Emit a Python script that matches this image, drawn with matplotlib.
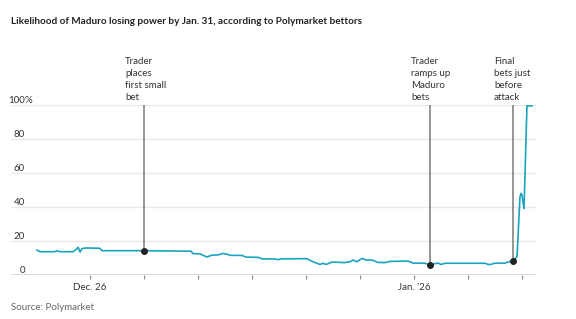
import matplotlib
matplotlib.use("Agg")
import matplotlib.pyplot as plt
import matplotlib.transforms as mtransforms
import pandas as pd

plt.rcParams["font.family"] = ["Lato", "DejaVu Sans"]

# hours since Dec. 25, 2025 00:00 and probability (%) of Maduro losing power
HOURS = [0.4, 1.8, 8.4, 9.3, 10.7, 16.4, 17.8, 18.7, 19.6, 20.4, 22.2, 28.4, 29.3, 48.0,
         68.9, 69.8, 72.9, 74.2, 76.0, 78.2, 80.9, 83.1, 84.9, 86.2, 91.6, 93.3, 98.7,
         100.4, 106.2, 107.6, 108.9, 120.4, 122.7, 124.9, 126.2, 127.6, 128.9, 131.6,
         137.3, 139.6, 140.9, 142.7, 144.9, 146.7, 149.3, 152.0, 155.1, 157.3, 165.3,
         167.6, 172.9, 175.1, 176.9, 178.7, 180.0, 181.8, 199.6, 200.9, 202.2, 203.6,
         208.4, 210.7, 212.0, 213.3, 213.8, 215.1, 215.6, 216.0, 216.9, 218.2, 220.4]
PROB = [14.7, 13.7, 13.7, 14.3, 13.7, 13.7, 15.0, 16.3, 13.5, 15.5, 15.9, 15.7, 14.3, 14.3,
        14.0, 12.6, 12.4, 11.6, 10.6, 11.7, 11.8, 12.7, 12.2, 11.6, 11.5, 10.5, 10.4,
        9.5, 9.4, 9.0, 9.5, 9.6, 8.0, 6.9, 6.2, 6.9, 6.2, 7.6,
        7.3, 7.8, 8.8, 7.8, 9.8, 8.8, 8.8, 7.4, 7.3, 8.0, 8.2,
        7.0, 6.9, 5.9, 6.6, 7.0, 6.2, 6.9, 6.9, 6.2, 6.2, 6.9,
        7.0, 8.0, 8.2, 10.0, 11.0, 46.0, 48.0, 47.0, 39.0, 99.5, 99.5]

# annotated trades: hour offset, probability at that moment, label
EVENT_HOURS = [48.0, 175.1, 212.0]
EVENT_PROB = [14.3, 5.9, 8.2]
EVENT_LABELS = ["Trader\nplaces\nfirst small\nbet",
                "Trader\nramps up\nMaduro\nbets",
                "Final\nbets just\nbefore\nattack"]

Y_TICKS = [0, 20, 40, 60, 80, 100]
X_TICK_DAYS = ["2025-12-26", "2025-12-27", "2025-12-28", "2025-12-29", "2025-12-30",
               "2025-12-31", "2026-01-01", "2026-01-02", "2026-01-03"]
X_LABELS = {"2025-12-26": "Dec. 26", "2026-01-01": "Jan. '26"}

START = pd.Timestamp("2025-12-25")
times = START + pd.to_timedelta(HOURS, unit="h")
event_times = START + pd.to_timedelta(EVENT_HOURS, unit="h")

W, H = 576, 319
fig = plt.figure(figsize=(W / 100, H / 100), dpi=100)
ax = fig.add_axes([11 / W, (H - 275) / H, (536 - 11) / W, 170 / H])

LINE = "#1ba3bf"
TEXT = "#333333"
SMALL = 7

ax.plot(times, PROB, color=LINE, lw=1.2, solid_joinstyle="round", zorder=3, clip_on=False)

# event markers with vertical leader lines up to the 100% line
for t, p, lab in zip(event_times, EVENT_PROB, EVENT_LABELS):
    ax.plot([t, t], [p, 100], color="#7a7a7a", lw=1.1, zorder=2)
    ax.plot([t], [p], "o", color="#222222", ms=4, zorder=4)
    ax.annotate(lab, xy=(t, 100), xytext=(-19, 3), textcoords="offset pixels",
                ha="left", va="bottom", fontsize=SMALL, color=TEXT, linespacing=1.45)

ax.set_xlim(START - pd.Timedelta(hours=25 / 54 * 24), START + pd.Timedelta(hours=500 / 54 * 24))
ax.set_ylim(0, 100)

# horizontal gridlines, dark baseline
for y in Y_TICKS[1:]:
    ax.axhline(y, color="#e9e9e9", lw=1, zorder=1)
ax.axhline(0, color="#555555", lw=1, zorder=2)

for s in ax.spines.values():
    s.set_visible(False)
ax.set_yticks([])

# y labels: numbers right aligned, % sign hanging
trans = mtransforms.blended_transform_factory(fig.transFigure, ax.transData)
for y in Y_TICKS:
    ax.text(25 / W, y, str(y), transform=trans, ha="right", va="bottom",
            fontsize=SMALL, color=TEXT)
ax.text(25 / W, 100, "%", transform=trans, ha="left", va="bottom", fontsize=SMALL, color=TEXT)

ticks = pd.to_datetime(X_TICK_DAYS)
ax.set_xticks(ticks)
ax.set_xticklabels([X_LABELS.get(d, "") for d in X_TICK_DAYS])
ax.tick_params(axis="x", length=3, width=0.8, color="#888888", pad=3,
               labelsize=SMALL, labelcolor=TEXT)

fig.text(11 / W, 1 - 22 / H, "Likelihood of Maduro losing power by Jan. 31, according to Polymarket bettors",
         ha="left", va="center", fontsize=7.2, fontweight="bold", color="#222222")
fig.text(11 / W, 1 - 308 / H, "Source: Polymarket", ha="left", va="center",
         fontsize=SMALL, color="#666666")

fig.savefig("out.png", dpi=100)
